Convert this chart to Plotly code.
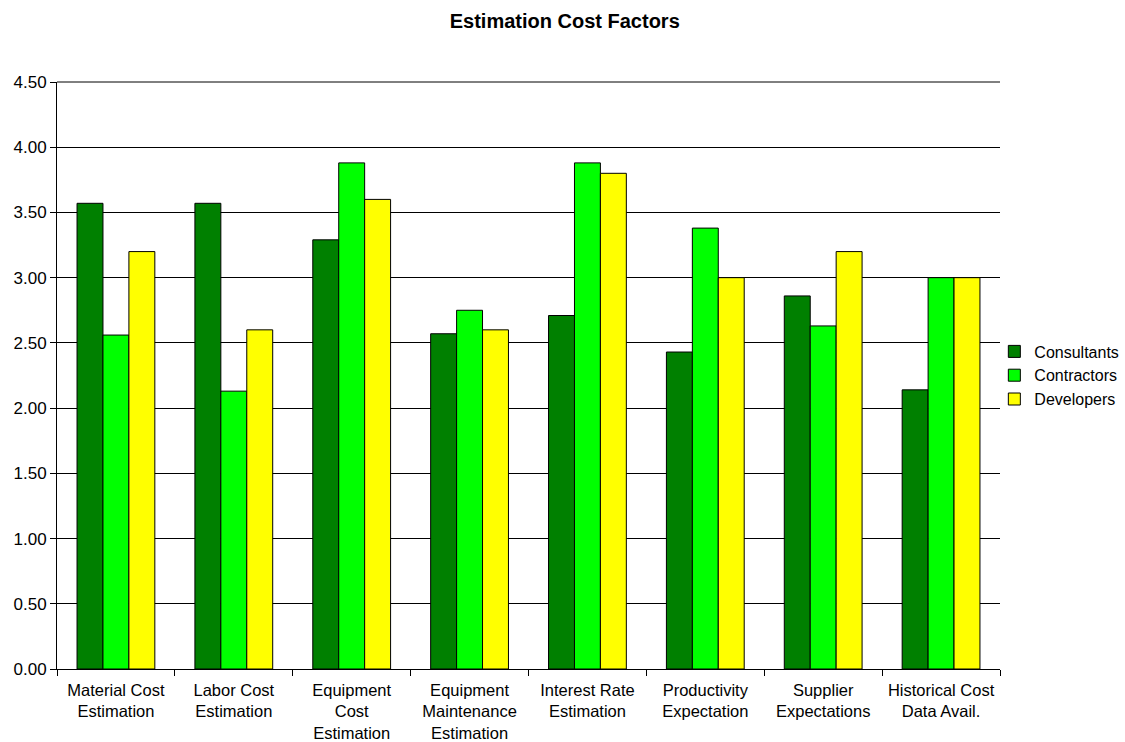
import plotly.graph_objects as go

categories = ["Material Cost<br>Estimation", "Labor Cost<br>Estimation", "Equipment<br>Cost<br>Estimation",
              "Equipment<br>Maintenance<br>Estimation", "Interest Rate<br>Estimation",
              "Productivity<br>Expectation", "Supplier<br>Expectations", "Historical Cost<br>Data Avail."]
consultants = [3.57, 3.57, 3.29, 2.57, 2.71, 2.43, 2.86, 2.14]
contractors = [2.56, 2.13, 3.88, 2.75, 3.88, 3.38, 2.63, 3.00]
developers = [3.20, 2.60, 3.60, 2.60, 3.80, 3.00, 3.20, 3.00]

series = [("Consultants", consultants, "#008000"),
          ("Contractors", contractors, "#00FF00"),
          ("Developers", developers, "#FFFF00")]

fig = go.Figure()
for name, vals, col in series:
    fig.add_trace(go.Bar(x=categories, y=vals, name=name,
                         marker=dict(color=col, line=dict(color="black", width=1))))

font = "Liberation Sans, Arial, sans-serif"
fig.update_layout(
    width=1125, height=742,
    margin=dict(l=57, r=125, t=82, b=73, autoexpand=False),
    paper_bgcolor="white", plot_bgcolor="white",
    barmode="group", bargap=0.34, bargroupgap=0,
    font=dict(family=font, size=16, color="black"),
    title=dict(text="<b>Estimation Cost Factors</b>", x=0.502, xanchor="center",
               y=0.972, yanchor="middle", font=dict(family=font, size=20, color="black")),
    legend=dict(x=0.994, xanchor="left", y=0.5, yanchor="middle",
                font=dict(family=font, size=16), itemwidth=30, tracegroupgap=0,
                bgcolor="rgba(0,0,0,0)"),
    xaxis=dict(showline=True, linecolor="black", linewidth=1, ticks="outside",
               tickson="boundaries", ticklen=6, tickcolor="black", ticklabelstandoff=6,
               tickfont=dict(family=font, size=16.5), mirror=False),
    yaxis=dict(range=[0, 4.5], tickvals=[0, 0.5, 1, 1.5, 2, 2.5, 3, 3.5, 4, 4.5],
               tickformat=".2f", showline=True, linecolor="black",
               linewidth=1, ticks="outside", ticklen=6, tickcolor="black",
               showgrid=True, gridcolor="black", gridwidth=1, zeroline=False,
               tickfont=dict(family=font, size=17)),
    shapes=[dict(type="line", xref="paper", yref="paper", x0=0, x1=1, y0=1, y1=1,
                 line=dict(color="black", width=1), layer="below")],
)
fig.write_html("out.html")
